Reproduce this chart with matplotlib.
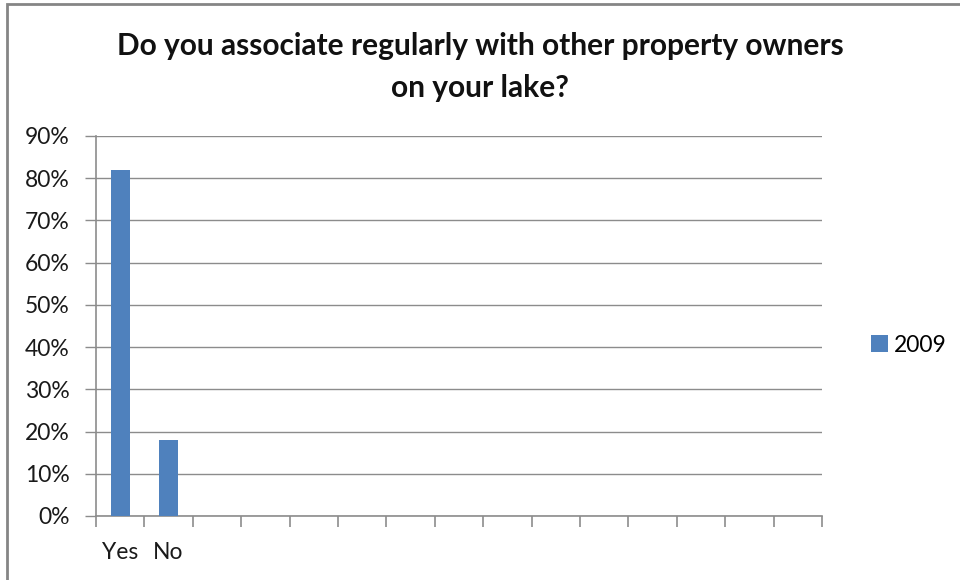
import numpy as np
import matplotlib
matplotlib.use("Agg")
import matplotlib.pyplot as plt
from matplotlib.patches import Rectangle
from matplotlib.ticker import FuncFormatter, FixedLocator

plt.rcParams["font.family"] = ["Lato", "DejaVu Sans"]

title = "Do you associate regularly with other property owners\non your lake?"
categories = ["Yes", "No"]
values = [82, 18]          # percent of responses
series_name = "2009"
n_slots = 15               # category slots along the x axis
y_ticks = list(range(0, 91, 10))

bar_color = "#4F81BD"
grid_color = "#8C8C8C"
text_color = "#1a1a1a"

fig = plt.figure(figsize=(9.6, 5.8), dpi=100)
ax = fig.add_axes([96 / 960, 64 / 580, 726 / 960, 380 / 580])

x = np.arange(len(categories))
ax.bar(x, values, width=0.4, color=bar_color, label=series_name, zorder=3)

ax.set_xlim(-0.5, n_slots - 0.5)
ax.set_ylim(0, 90)
ax.set_yticks(y_ticks)
ax.yaxis.set_major_formatter(FuncFormatter(lambda v, _: f"{v:.0f}%"))
ax.grid(axis="y", color=grid_color, linewidth=1.0, zorder=0)

ax.set_xticks(x)
ax.set_xticklabels(categories)
ax.xaxis.set_minor_locator(FixedLocator(np.arange(n_slots + 1) - 0.5))
ax.tick_params(axis="x", which="major", length=0, pad=19, labelsize=16.5,
               labelcolor=text_color)
ax.tick_params(axis="x", which="minor", length=8, width=1.2, color=grid_color)
ax.tick_params(axis="y", length=8, width=1.0, color=grid_color, labelsize=16.5,
               labelcolor=text_color, pad=11)

for side in ["top", "right"]:
    ax.spines[side].set_visible(False)
for side in ["left", "bottom"]:
    ax.spines[side].set_color(grid_color)
    ax.spines[side].set_linewidth(1.2)

fig.text(0.5, 1 - 67 / 580, title, ha="center", va="center", fontsize=21.5,
         fontweight="bold", linespacing=1.65, color="#111111")

fig.legend(loc="center left", bbox_to_anchor=(850 / 960, 1 - 345 / 580),
           frameon=False, fontsize=16.5, handlelength=0.75, handleheight=0.75,
           handletextpad=0.25)

fig.add_artist(Rectangle((7 / 960, -0.05), 1.1, 1.05 - 4 / 580,
                         transform=fig.transFigure, fill=False,
                         edgecolor="#858585", linewidth=2.0))

fig.savefig("out.png", dpi=100)
